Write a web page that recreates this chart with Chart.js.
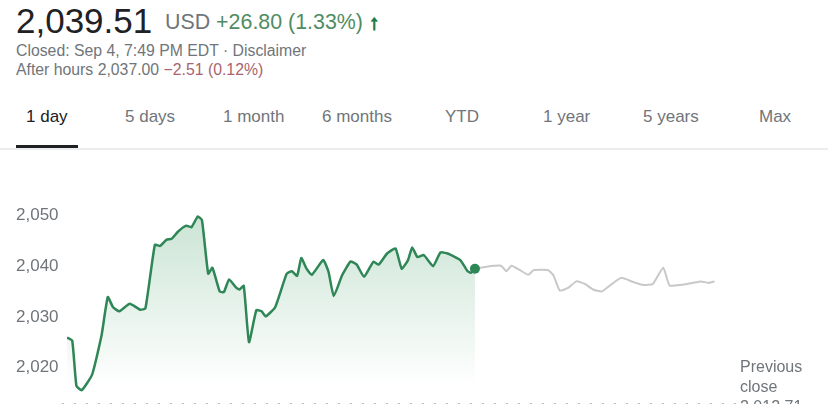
<!DOCTYPE html>
<html>
<head>
<meta charset="utf-8">
<script src="https://cdn.jsdelivr.net/npm/chart.js"></script>
<style>
  body { margin: 0; width: 828px; height: 404px; overflow: hidden; background: #fff; font-family: Arial, "Liberation Sans", sans-serif; position: relative; }
  .abs { position: absolute; white-space: nowrap; }
  #price { left: 16px; top: 3px; font-size: 35px; line-height: 35px; color: #202124; }
  #change { left: 165px; top: 12px; font-size: 21.4px; line-height: 21px; color: #70757a; }
  #change .up { color: #4f8c63; }
  #change .arrow { color: #1e7b45; font-weight: bold; font-size: 20px; -webkit-text-stroke: 1.2px #1e7b45; }
  #closed { left: 16px; top: 43px; font-size: 15.8px; line-height: 16px; color: #70757a; }
  #after { left: 16px; top: 62px; font-size: 15.8px; line-height: 16px; color: #70757a; }
  #after .down { color: #a8646e; }
  .tab { top: 108px; font-size: 17px; line-height: 17px; color: #70757a; }
  .tab.active { color: #202124; }
  #sep { left: 0; top: 148px; width: 828px; height: 2px; background: #ebedef; }
  #bar { left: 16px; top: 145px; width: 62px; height: 3px; background: #202124; }
  #prev { left: 740px; top: 357px; font-size: 16px; line-height: 20px; color: #70757a; white-space: normal; }
  #wrap { position: absolute; left: 0; top: 160px; width: 828px; height: 252px; }
</style>
</head>
<body>
<div class="abs" id="price">2,039.51</div>
<div class="abs" id="change">USD <span class="up">+26.80 (1.33%)</span> <span class="arrow">&#8593;</span></div>
<div class="abs" id="closed">Closed: Sep 4, 7:49 PM EDT · Disclaimer</div>
<div class="abs" id="after">After hours 2,037.00 <span class="down">&minus;2.51 (0.12%)</span></div>

<div class="abs tab active" style="left:26px">1 day</div>
<div class="abs tab" style="left:125px">5 days</div>
<div class="abs tab" style="left:223px">1 month</div>
<div class="abs tab" style="left:322px">6 months</div>
<div class="abs tab" style="left:445px">YTD</div>
<div class="abs tab" style="left:543px">1 year</div>
<div class="abs tab" style="left:643px">5 years</div>
<div class="abs tab" style="left:759px">Max</div>
<div class="abs" id="sep"></div>
<div class="abs" id="bar"></div>

<div id="wrap"><canvas id="myChart" width="828" height="252"></canvas></div>
<div class="abs" id="prev">Previous<br>close<br>2,012.71</div>

<script>
// minuter efter 9:30
const marketTimes = [0,5,9,14,24,33,39,44,50,60,70,75,84,89,95,100,106,114,119,125,129,135,139,146,150,155,162,165,169,174,181,186,190,199,210,215,220,224,229,234,245,250,255,263,271,277,284,293,298,306,314,320,326,330,335,341,350,357,364,376,383,386,390];
const marketPrices = [2025.9,2025.3,2016.4,2015.5,2018.6,2026.3,2033.9,2031.9,2031.1,2032.6,2031.4,2031.7,2044.2,2044.0,2045.2,2045.4,2046.8,2048.0,2047.7,2049.8,2049.1,2038.5,2039.7,2035.0,2034.9,2037.4,2035.7,2035.4,2036.1,2025.0,2031.3,2031.1,2030.1,2031.9,2038.5,2039.0,2038.1,2041.6,2039.5,2038.3,2041.2,2038.9,2034.1,2038.2,2040.9,2040.3,2037.9,2040.9,2040.3,2042.5,2043.5,2039.5,2041.2,2043.7,2041.8,2042.2,2040.0,2042.7,2042.5,2041.2,2039.0,2038.7,2039.51];

const afterTimes = [390,401,415,420,425,433,441,446,460,465,471,479,487,495,503,511,521,530,541,551,560,570,576,587,598,606,613,619];
const afterPrices = [2039.51,2039.9,2040.1,2039.0,2040.1,2039.2,2038.3,2039.2,2039.2,2038.2,2035.2,2035.7,2037.0,2036.5,2035.4,2035.0,2036.5,2037.7,2036.9,2036.3,2036.5,2039.7,2036.2,2036.3,2036.7,2037.0,2036.7,2037.0];

const previousClose = 2012.71;
const yTicks = [2020, 2030, 2040, 2050];

function toPoints(times, prices) {
  return times.map((t, i) => ({ x: t, y: prices[i] }));
}

const ctx = document.getElementById('myChart');

new Chart(ctx, {
  type: 'line',
  data: {
    datasets: [
      {
        data: toPoints(marketTimes, marketPrices),
        borderColor: '#2f8656',
        borderWidth: 2.5,
        tension: 0.15,
        fill: 'start',
        backgroundColor: (c) => {
          const area = c.chart.chartArea;
          if (!area) return 'rgba(0,0,0,0)';
          const g = c.chart.ctx.createLinearGradient(0, area.top + 40, 0, area.bottom - 20);
          g.addColorStop(0, 'rgba(52,150,90,0.26)');
          g.addColorStop(1, 'rgba(52,150,90,0)');
          return g;
        },
        pointRadius: (c) => c.dataIndex === marketTimes.length - 1 ? 5 : 0,
        pointBackgroundColor: '#2f8656',
        pointBorderWidth: 0
      },
      {
        data: toPoints(afterTimes, afterPrices),
        borderColor: '#c8c8c8',
        borderWidth: 2,
        tension: 0.15,
        pointRadius: 0,
        fill: false
      },
      {
        data: [{ x: -5, y: previousClose }, { x: 640, y: previousClose }],
        borderColor: '#6b6f73',
        borderWidth: 2,
        borderDash: [2, 10],
        pointRadius: 0,
        fill: false,
        clip: false
      }
    ]
  },
  options: {
    responsive: false,
    animation: false,
    events: [],
    layout: { padding: { left: 16, right: 102, top: 15, bottom: 0 } },
    plugins: { legend: { display: false }, tooltip: { enabled: false } },
    scales: {
      x: { type: 'linear', min: 0, max: 630, display: false },
      y: {
        min: 2012.2,
        max: 2058,
        grid: { display: false },
        border: { display: false },
        afterBuildTicks: (scale) => { scale.ticks = yTicks.map(v => ({ value: v })); },
        afterFit: (scale) => {
          scale.width = 51;
          scale.paddingTop = 0;
          scale.paddingBottom = 0;
        },
        ticks: {
          crossAlign: 'far',
          padding: 0,
          color: '#70757a',
          font: { family: 'Arial', size: 17 },
          callback: (v) => v.toLocaleString('en-US')
        }
      }
    }
  }
});
</script>
</body>
</html>
